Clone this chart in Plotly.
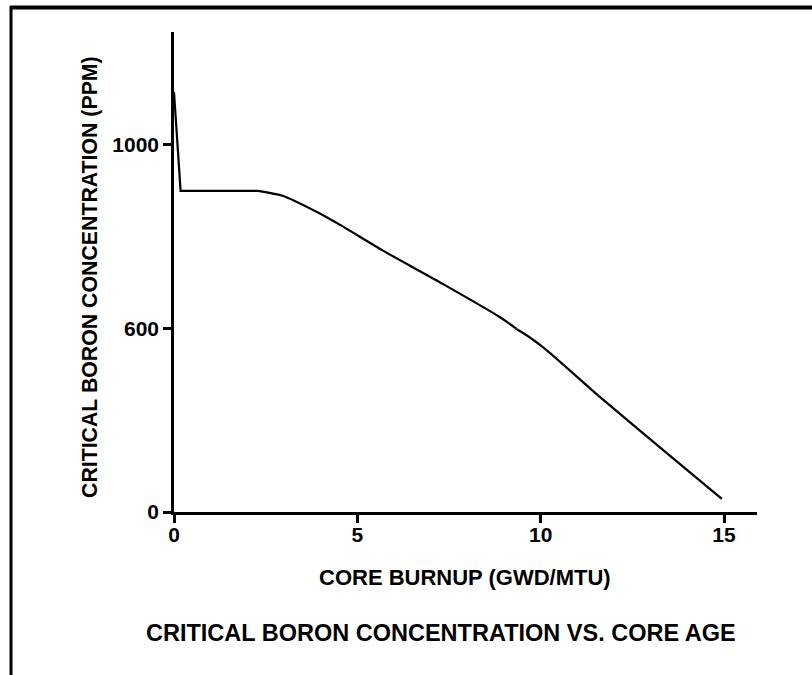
import plotly.graph_objects as go

# Data (core burnup in GWD/MTU, critical boron in ppm)
burnup = [0.0, 0.18, 2.29, 2.98, 3.90, 4.53, 5.70, 7.34, 8.89, 9.33, 10.06, 11.62, 13.44, 14.94]
boron = [1115, 900, 900, 889, 854, 826, 770, 697, 625, 600, 540, 376, 193, 43]

x_ticks = [0, 5, 10, 15]
y_ticks_lower = [0, 600]
y_ticks_upper = [1000]

title_text = "CRITICAL BORON CONCENTRATION VS. CORE AGE"
x_title = "CORE BURNUP (GWD/MTU)"
y_title = "CRITICAL BORON CONCENTRATION (PPM)"

FONT = "Liberation Sans, Arial, Helvetica, sans-serif"
W, H = 812, 675
L, R, T, B = 174, 55, 32, 163
PW, PH = W - L - R, H - T - B

def px(xp):
    return (xp - L) / PW

def py(yp):
    return (H - B - yp) / PH

split = py(328.7)

fig = go.Figure()
line_lin = dict(color="black", width=2.2)
line_spl = dict(color="black", width=2.2, shape="spline", smoothing=0.6)
k = 2  # start of the smooth depletion curve (end of plateau)
for ya in ["y", "y2"]:
    fig.add_trace(go.Scatter(x=burnup[:k + 1], y=boron[:k + 1], mode="lines",
                             line=line_lin, xaxis="x", yaxis=ya, showlegend=False))
    fig.add_trace(go.Scatter(x=burnup[k:], y=boron[k:], mode="lines",
                             line=line_spl, xaxis="x", yaxis=ya, showlegend=False))

tickfont = dict(family=FONT, size=21, color="black", weight="bold")
axis_common = dict(showline=True, linecolor="black", linewidth=2.5, ticks="outside",
                   ticklen=8, tickwidth=2.5, tickcolor="black", showgrid=False,
                   zeroline=False, tickfont=tickfont)

fig.update_layout(
    width=W, height=H,
    margin=dict(l=L, r=R, t=T, b=B),
    paper_bgcolor="white", plot_bgcolor="white",
    xaxis=dict(range=[0, 15.9], tickvals=x_ticks, anchor="y", ticklabelstandoff=-6,
               **axis_common),
    yaxis=dict(domain=[0, split], range=[0, 600], tickvals=y_ticks_lower,
               anchor="x", **axis_common),
    yaxis2=dict(domain=[split, 1], range=[600, 1246], tickvals=y_ticks_upper,
                anchor="x", **axis_common),
    annotations=[
        dict(text=y_title, xref="paper", yref="paper", x=px(90), y=py(277),
             textangle=-90, showarrow=False, xanchor="center", yanchor="middle",
             font=dict(family=FONT, size=21.3, color="black", weight="bold")),
        dict(text=x_title, xref="paper", yref="paper", x=px(465), y=py(577),
             showarrow=False, xanchor="center", yanchor="middle",
             font=dict(family=FONT, size=22, color="black", weight="bold")),
        dict(text=title_text, xref="paper", yref="paper", x=px(441), y=py(633),
             showarrow=False, xanchor="center", yanchor="middle",
             font=dict(family=FONT, size=23.5, color="black", weight="bold")),
    ],
    shapes=[
        dict(type="line", xref="paper", yref="paper", x0=px(10), x1=px(812),
             y0=py(7.5), y1=py(7.5), line=dict(color="black", width=4)),
        dict(type="line", xref="paper", yref="paper", x0=px(11), x1=px(11),
             y0=py(6), y1=py(676), line=dict(color="black", width=3)),
    ],
)

fig.write_html("out.html", config={"displayModeBar": False},
               post_script="document.body.style.margin='0px';document.body.style.overflow='hidden';")
